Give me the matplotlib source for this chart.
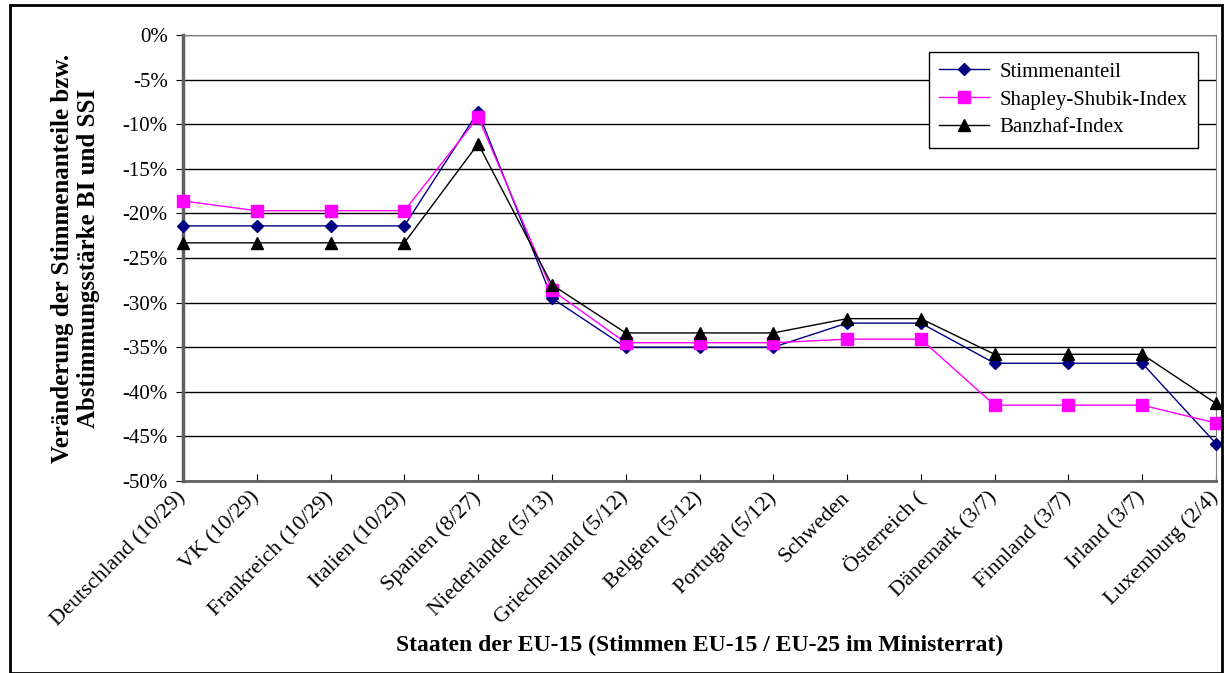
import numpy as np
import matplotlib.pyplot as plt
from matplotlib.ticker import PercentFormatter

staaten = ["Deutschland (10/29)", "VK (10/29)", "Frankreich (10/29)", "Italien (10/29)",
           "Spanien (8/27)", "Niederlande (5/13)", "Griechenland (5/12)", "Belgien (5/12)",
           "Portugal (5/12)", "Schweden", "Österreich (", "Dänemark (3/7)",
           "Finnland (3/7)", "Irland (3/7)", "Luxemburg (2/4)"]

stimmenanteil = [-21.4, -21.4, -21.4, -21.4, -8.6, -29.5, -35.0, -35.0, -35.0,
                 -32.3, -32.3, -36.8, -36.8, -36.8, -45.8]
shapley_shubik = [-18.6, -19.7, -19.7, -19.7, -9.2, -28.6, -34.5, -34.5, -34.5,
                  -34.1, -34.1, -41.5, -41.5, -41.5, -43.5]
banzhaf = [-23.3, -23.3, -23.3, -23.3, -12.2, -28.0, -33.4, -33.4, -33.4,
           -31.8, -31.8, -35.8, -35.8, -35.8, -41.3]


def main():
    plt.rcParams['font.family'] = ['Liberation Serif', 'DejaVu Serif']
    plt.rcParams['axes.unicode_minus'] = False

    fig = plt.figure(figsize=(12.24, 6.73), dpi=100)
    ax = fig.add_axes([183 / 1224, 1 - 481 / 673, (1216 - 183) / 1224, (481 - 35) / 673])

    x = np.arange(len(staaten))
    ax.plot(x, stimmenanteil, color="#000080", lw=1, marker="D", ms=6,
            clip_on=False, zorder=3, label="Stimmenanteil")
    ax.plot(x, shapley_shubik, color="#FF00FF", lw=1, marker="s", ms=8,
            clip_on=False, zorder=3, label="Shapley-Shubik-Index")
    ax.plot(x, banzhaf, color="black", lw=1, marker="^", ms=8,
            clip_on=False, zorder=3, label="Banzhaf-Index")

    ax.set_xlim(0, len(staaten) - 1)
    ax.set_ylim(-50, 0)
    ax.set_yticks(np.arange(-50, 1, 5))
    ax.yaxis.set_major_formatter(PercentFormatter(decimals=0))
    ax.grid(axis="y", color="black", lw=1)
    ax.set_axisbelow(True)

    ax.set_xticks(x)
    ax.set_xticklabels(staaten, rotation=45, ha="right", va="center",
                       rotation_mode="anchor", fontsize=16)
    ax.tick_params(axis="y", labelsize=15, length=5, direction="out", pad=6)
    ax.tick_params(axis="x", length=5, direction="in", pad=10)

    for side in ["top", "right"]:
        ax.spines[side].set_color("#808080")
    ax.spines["left"].set_color("#606060")
    ax.spines["left"].set_linewidth(2.5)
    ax.spines["bottom"].set_color("#606060")
    ax.spines["bottom"].set_linewidth(2)

    ax.set_xlabel("Staaten der EU-15 (Stimmen EU-15 / EU-25 im Ministerrat)",
                  fontsize=17, fontweight="bold", labelpad=3)
    ax.set_ylabel("Veränderung der Stimmenanteile bzw.\nAbstimmungsstärke BI und SSI",
                  fontsize=18, fontweight="bold", labelpad=16)

    leg = ax.legend(loc="upper right", bbox_to_anchor=(0.993, 0.986), fontsize=15,
                    fancybox=False, framealpha=1, edgecolor="black", borderpad=0.5,
                    labelspacing=0.4, handlelength=2.4, handletextpad=0.5)
    leg.get_frame().set_linewidth(1)

    fig.patches.append(plt.Rectangle((10 / 1224, 0), 1212 / 1224, 1 - 5 / 673,
                                     transform=fig.transFigure, fill=False,
                                     edgecolor="black", lw=2))

    plt.savefig("out.png", dpi=100)


if __name__ == "__main__":
    main()
